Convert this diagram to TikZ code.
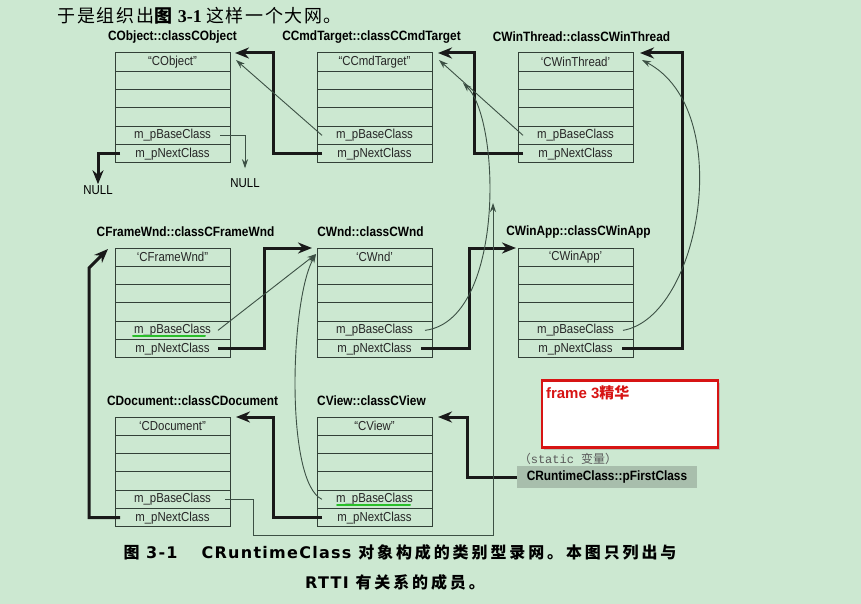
\documentclass[tikz,border=0pt]{standalone}
\usepackage{fontspec}
\setmainfont{Liberation Sans}[FakeStretch=0.88]
\newfontfamily\plain{Liberation Sans}
\newfontfamily\cjk{Noto Sans CJK SC}
\newfontfamily\capl{DejaVu Sans}[LetterSpace=8]
\newfontfamily\capc{Noto Sans CJK SC}[LetterSpace=18]
\newfontfamily\headc{Noto Sans CJK SC}[LetterSpace=9]
\newfontfamily\serf{Liberation Serif}
\newfontfamily\monof{Liberation Mono}
\usetikzlibrary{positioning, arrows.meta, shadows}

\definecolor{paper}{RGB}{204,232,209}
\definecolor{boxline}{RGB}{50,64,55}
\definecolor{thinline}{RGB}{60,80,68}
\definecolor{firstgray}{RGB}{168,190,172}
\definecolor{notered}{RGB}{215,20,20}
\definecolor{marker}{RGB}{40,190,40}

\begin{document}
\begin{tikzpicture}[
    x=1pt, y=-1pt,
    font=\fontsize{13}{14}\selectfont,
    field/.style={
        draw=boxline, line width=1pt,
        minimum width=115pt, minimum height=18.3pt,
        inner sep=0pt, outer sep=0pt, text=black!85,
    },
    title/.style={font=\fontsize{13.5}{14}\selectfont\bfseries, inner sep=0pt},
    nxt/.style={-{Stealth[length=14pt,width=11pt]}, line width=3pt, draw=black!90},
    bse/.style={-{Stealth[length=9pt,width=6pt]}, line width=0.9pt, draw=thinline},
    note/.style={
        draw=notered, line width=2.4pt, fill=white,
        minimum width=176pt, minimum height=67pt,
        drop shadow={shadow xshift=2pt, shadow yshift=-2pt, opacity=0.35},
    },
    hl/.style={draw=marker, line width=2pt, line cap=round},
]

% page
\fill[paper] (0,0) rectangle (861,604);
\useasboundingbox (0,0) rectangle (861,604);

% column x / row y of the class boxes
\def\colA{115}
\def\colB{317}
\def\colC{518}
\def\rowA{53}
\def\rowB{248}
\def\rowC{417}

% CRuntimeClass objects
\foreach \n/\cls/\x/\y/\lbl/\tdx in {
    obj/CObject/\colA/\rowA/{“CObject”}/0,
    cmd/CCmdTarget/\colB/\rowA/{“CCmdTarget”}/-3,
    thr/CWinThread/\colC/\rowA/{‘CWinThread’}/6,
    frm/CFrameWnd/\colA/\rowB/{‘CFrameWnd”}/13,
    wnd/CWnd/\colB/\rowB/{‘CWnd’}/-4,
    app/CWinApp/\colC/\rowB/{‘CWinApp’}/3,
    doc/CDocument/\colA/\rowC/{‘CDocument”}/20,
    vw/CView/\colB/\rowC/{“CView”}/-3%
}{
    \node[field, anchor=north west] (\n-0) at (\x,\y) {\lbl};
    \node[field, below=0pt of \n-0] (\n-1) {};
    \node[field, below=0pt of \n-1] (\n-2) {};
    \node[field, below=0pt of \n-2] (\n-3) {};
    \node[field, below=0pt of \n-3] (\n-base) {m\_pBaseClass};
    \node[field, below=0pt of \n-base] (\n-next) {m\_pNextClass};
    \node[title] (\n-t) at ([xshift=\tdx pt, yshift=16pt]\n-0.north) {\cls::class\cls};
}

% NULL ends
\node[inner sep=0pt] (null1) at (98,190) {NULL};
\node[inner sep=0pt] (null2) at (245,183) {NULL};

% static head of the list
\node[fill=firstgray, minimum width=180pt, minimum height=22pt,
      font=\fontsize{13.5}{14}\selectfont\bfseries] (first) at (607,477) {CRuntimeClass::pFirstClass};
\node[text=black!65, font=\fontsize{12}{12}\selectfont] (stat) at (568,459)
    {{\cjk （}{\monof static }{\cjk 变量）}};

% red note
\node[note, label={[anchor=north west, xshift=5pt, yshift=-6pt, inner sep=0pt, text=notered,
      font=\fontsize{15}{16}\selectfont\bfseries]north west:{\plain frame 3{\cjk 精华}}}] (note) at (630,414) {};

% highlights
\draw[hl] ([shift={(18,6)}]frm-base.west) -- ([shift={(-25,6)}]frm-base.east);
\draw[hl] ([shift={(20,6)}]vw-base.west) -- ([shift={(-22,6)}]vw-base.east);

% --- m_pNextClass chain ---
\draw[nxt] (first.west) -- ++(-49,0) |- ([xshift=6pt]vw-0.north east);
\draw[nxt] ([xshift=5pt]vw-next.west) -- ++(-49,0) |- ([xshift=6pt]doc-0.north east);
\draw[nxt] ([xshift=5pt]doc-next.west) -| ([shift={(-26,20)}]frm-0.north west) -- ([shift={(-7,1)}]frm-0.north west);
\draw[nxt] ([xshift=-12pt]frm-next.east) -- ++(46,0) |- ([xshift=-5pt]wnd-0.north west);
\draw[nxt] ([xshift=-11pt]wnd-next.east) -- ++(48,0) |- ([xshift=-2pt]app-0.north west);
\draw[nxt] ([xshift=-11pt]app-next.east) -- ++(60,0) |- ([xshift=7pt]thr-0.north east);
\draw[nxt] ([xshift=5pt]thr-next.west) -- ++(-49,0) |- ([xshift=6pt]cmd-0.north east);
\draw[nxt] ([xshift=5pt]cmd-next.west) -- ++(-49,0) |- ([xshift=5pt]obj-0.north east);
\draw[nxt, shorten >=1pt] ([xshift=5pt]obj-next.west) -| (null1.north);

% --- m_pBaseClass links ---
\coordinate (docturn) at (253,535);
\coordinate (docend) at (493,203);
\draw[bse] ([xshift=-10pt]obj-base.east) -| ([yshift=10pt]null2.north);
\draw[bse] ([xshift=5pt]cmd-base.west) -- ([shift={(6,7)}]obj-0.north east);
\draw[bse] ([xshift=5pt]thr-base.west) -- ([shift={(7,7)}]cmd-0.north east);
\draw[bse] ([xshift=-10pt]app-base.east) .. controls +(77,-13) and +(95,50) .. ([shift={(9,7)}]thr-0.north east);
\draw[bse] ([xshift=-7pt]wnd-base.east) .. controls +(80,-10) and +(38,37) .. ([shift={(31,30)}]cmd-0.north east);
\draw[bse] ([xshift=-5pt]doc-base.east) -| (docturn) -| (docend);
\draw[bse] ([xshift=5pt]vw-base.west) .. controls +(-37,-17) and +(-26,46) .. ([shift={(-1,6)}]wnd-0.north west);
\draw[bse] ([xshift=-12pt]frm-base.east) -- ([shift={(-1,6)}]wnd-0.north west);

% text above and caption
\node[anchor=west, font=\fontsize{18}{20}\selectfont] (head) at (54,16)
    {\headc 于是组织出\bfseries 图 \serf 3-1 \mdseries\headc 这样一个大网。};
\node[font=\fontsize{16}{20}\selectfont\bfseries] (cap1) at (400,552)
    {\capc 图 \capl 3-1\hspace{24pt}CRuntimeClass \capc 对象构成的类别型录网。本图只列出与};
\node[font=\fontsize{16}{20}\selectfont\bfseries] (cap2) at (395,582)
    {\capl RTTI \capc 有关系的成员。};

\end{tikzpicture}
\end{document}
